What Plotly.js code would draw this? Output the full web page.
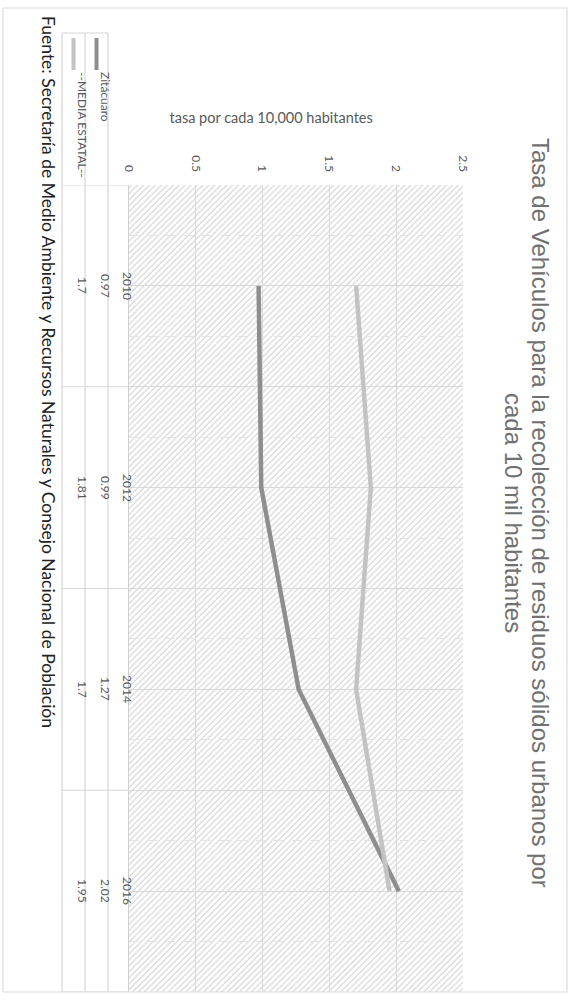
<!DOCTYPE html>
<html>
<head>
<meta charset="utf-8">
<script src="https://cdn.plot.ly/plotly-3.0.1.min.js"></script>
<style>
html,body{margin:0;padding:0;background:#fff;overflow:hidden;width:573px;height:1000px;}
#wrap{position:absolute;left:0;top:0;width:1000px;height:573px;transform-origin:0 0;transform:translateX(573px) rotate(90deg);}
</style>
</head>
<body>
<div id="wrap"><div id="chart"></div></div>
<script>
// ---- data ----
const years = ["2010", "2012", "2014", "2016"];
const zitacuaro = [0.97, 0.99, 1.27, 2.02];
const mediaEstatal = [1.7, 1.81, 1.7, 1.95];
const seriesNames = ["Zitácuaro", "--MEDIA ESTATAL--"];
const yTicks = [0, 0.5, 1, 1.5, 2, 2.5];
const titleLines = ["Tasa de Vehículos para la recolección de residuos sólidos urbanos por", "cada 10 mil habitantes"];
const yTitle = "tasa por cada 10,000 habitantes";
const source = "Fuente: Secretaría de Medio Ambiente y Recursos Naturales y Consejo Nacional de Población";

// ---- geometry (unrotated chart, 1000 x 573) ----
const W = 1000, H = 573;
const M = {l: 185, r: 8, t: 110, b: 129};
const PW = W - M.l - M.r, PH = H - M.t - M.b;
const px = X => (X - M.l) / PW;          // pixel X -> paper x
const py = Y => (H - M.b - Y) / PH;      // pixel Y -> paper y
const idx = years.map((_, i) => i);

const DARK = "#8e8e8e", LIGHT = "#c3c3c3", TXT = "#595959", GRID = "#d9d9d9";
const FONT = "Lato, 'Open Sans', sans-serif";
const TFONT = "'Liberation Sans', Arial, sans-serif";

// hatch background
const hatch = "<svg xmlns='http://www.w3.org/2000/svg' width='" + PW + "' height='" + PH + "'>" +
  "<defs><pattern id='p' width='4.2' height='8' patternUnits='userSpaceOnUse' patternTransform='rotate(-45)'>" +
  "<line x1='1' y1='0' x2='1' y2='8' stroke='#d6d6d6' stroke-width='1.2'/></pattern></defs>" +
  "<rect width='100%' height='100%' fill='#ffffff'/><rect width='100%' height='100%' fill='url(#p)'/></svg>";
const hatchURI = "data:image/svg+xml;charset=utf-8," + encodeURIComponent(hatch);

const traces = [
  {x: idx, y: zitacuaro, type: "scatter", mode: "lines", name: seriesNames[0],
   line: {color: DARK, width: 4.5}, hoverinfo: "y"},
  {x: idx, y: mediaEstatal, type: "scatter", mode: "lines", name: seriesNames[1],
   line: {color: LIGHT, width: 4.5}, hoverinfo: "y"}
];

const ann = [];
const shapes = [];
// table text
years.forEach((yr, i) => {
  ann.push({xref: "x", yref: "paper", x: i, y: py(455), text: yr, showarrow: false,
            font: {family: FONT, size: 12, color: TXT}});
  ann.push({xref: "x", yref: "paper", x: i, y: py(476.5), text: String(zitacuaro[i]), showarrow: false,
            font: {family: FONT, size: 12, color: TXT}});
  ann.push({xref: "x", yref: "paper", x: i, y: py(499.5), text: String(mediaEstatal[i]), showarrow: false,
            font: {family: FONT, size: 12, color: TXT}});
});
// legend keys in table
[[seriesNames[0], DARK, 476.5], [seriesNames[1], LIGHT, 499.5]].forEach(([nm, col, Y]) => {
  shapes.push({type: "line", xref: "paper", yref: "paper", x0: px(38), x1: px(70), y0: py(Y), y1: py(Y),
               line: {color: col, width: 4}});
  ann.push({xref: "paper", yref: "paper", x: px(70), y: py(Y), xanchor: "left", text: nm, showarrow: false,
            font: {family: FONT, size: 12, color: TXT}});
});
// table grid lines
const TL = "#d6d6d6";
[465, 488, 511].forEach(Y => shapes.push({type: "line", xref: "paper", yref: "paper",
  x0: px(33), x1: 1, y0: py(Y), y1: py(Y), line: {color: TL, width: 1.2}}));
shapes.push({type: "line", xref: "paper", yref: "paper", x0: px(33), x1: px(33), y0: py(465), y1: py(511),
  line: {color: TL, width: 1.2}});
[-0.5, 0.5, 1.5, 2.5, 3.5].forEach(v => shapes.push({type: "line", xref: "x", yref: "paper",
  x0: v, x1: v, y0: 0, y1: py(511), line: {color: TL, width: 1.2}}));
// outer chart border
shapes.push({type: "rect", xref: "paper", yref: "paper", x0: px(8), x1: px(992), y0: py(6), y1: py(570),
  line: {color: "#dcdcdc", width: 1.2}});

// title (two lines)
ann.push({xref: "paper", yref: "paper", x: px(513), y: py(17), text: titleLines[0], showarrow: false,
          font: {family: TFONT, size: 24, color: "#707070"}});
ann.push({xref: "paper", yref: "paper", x: px(513), y: py(44), text: titleLines[1], showarrow: false,
          font: {family: TFONT, size: 24, color: "#707070"}});
// y axis title
ann.push({xref: "paper", yref: "paper", x: px(106), y: py(302), text: yTitle, textangle: -90, showarrow: false,
          font: {family: FONT, size: 14.5, color: TXT}});
// source
ann.push({xref: "paper", yref: "paper", x: px(14), y: py(537), xanchor: "left", text: source, showarrow: false,
          font: {family: FONT, size: 17.5, color: "#222222"}});

const layout = {
  width: W, height: H,
  margin: M,
  paper_bgcolor: "#ffffff",
  plot_bgcolor: "rgba(0,0,0,0)",
  showlegend: false,
  xaxis: {range: [-0.5, 3.5], tick0: -0.5, dtick: 0.5, showticklabels: false, ticks: "",
          showgrid: true, gridcolor: GRID, gridwidth: 1.2, zeroline: false,
          showline: true, linecolor: "#cfcfcf", linewidth: 1.5,
          minor: {tick0: -0.5, dtick: 0.25, showgrid: true, gridcolor: "#e3e3e3", griddash: "dash", gridwidth: 1}},
  yaxis: {range: [0, 2.5], tickvals: yTicks, ticktext: yTicks.map(String), ticks: "",
          showgrid: true, gridcolor: GRID, gridwidth: 1.2, zeroline: false, ticklabelstandoff: 12,
          tickfont: {family: FONT, size: 12, color: TXT}},
  images: [{source: hatchURI, xref: "paper", yref: "paper", x: 0, y: 1, sizex: 1, sizey: 1,
            xanchor: "left", yanchor: "top", sizing: "stretch", layer: "below"}],
  annotations: ann,
  shapes: shapes
};

Plotly.newPlot("chart", traces, layout, {displayModeBar: false, staticPlot: true});
</script>
</body>
</html>
